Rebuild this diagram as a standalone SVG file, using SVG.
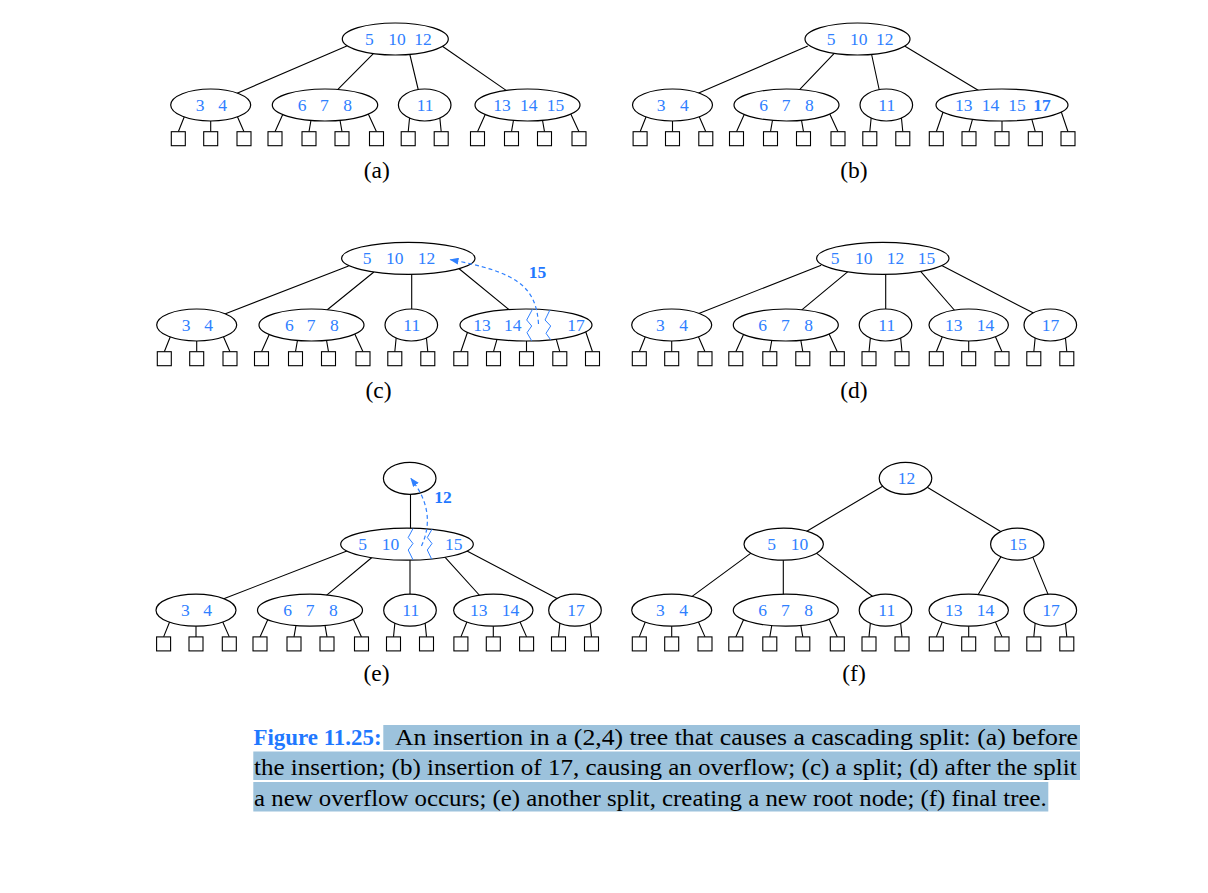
<svg xmlns="http://www.w3.org/2000/svg" xmlns:xlink="http://www.w3.org/1999/xlink" width="1208" height="893" viewBox="0 0 1208 893">
<style>
.e{fill:#fff;stroke:#000;stroke-width:1.2}
.lf{fill:#fff;stroke:#000;stroke-width:1.1}
.c{stroke:#000;stroke-width:1.1;fill:none}
.k{font-family:'Liberation Serif','Times New Roman',Times,serif;font-size:17.5px;fill:#2f80ff}
.kb{font-family:'Liberation Serif','Times New Roman',Times,serif;font-size:17.5px;font-weight:bold;fill:#1f78ff}
.lab{font-family:'Liberation Serif','Times New Roman',Times,serif;font-size:23.5px;fill:#000;text-anchor:middle}
.cap{font-family:'Liberation Serif','Times New Roman',Times,serif;font-size:22.5px;fill:#000}
.fig{font-family:'Liberation Serif','Times New Roman',Times,serif;font-size:22.5px;font-weight:bold;fill:#1f78ff}
.zz{stroke:#2f80ff;fill:none;stroke-width:1}
.da{stroke:#2f80ff;stroke-dasharray:4 3;fill:none;stroke-width:1.2}
.hl{fill:#9cc2dc}
</style>
<defs>
<marker id="ah" markerWidth="9" markerHeight="7" refX="8" refY="3.5" orient="auto" markerUnits="userSpaceOnUse"><path d="M0,0 L9,3.5 L0,7 z" fill="#2f80ff"/></marker>
<g id="le2"><path class="c" d="M-15,11.5 L-16.5,26.7 M15,11.5 L16.5,26.7"/></g>
<g id="le3"><path class="c" d="M-25.9,10.5 L-32.4,26.7 M0,14 L0,26.7 M26.2,10.5 L33.3,26.7"/></g>
<g id="le4"><path class="c" d="M-41.6,8 L-50,26.7 M-13.7,13.5 L-16,26.7 M14.7,13.5 L17,26.7 M42.6,7.5 L51.5,26.7"/></g>
<g id="le5"><path class="c" d="M-58.5,5.7 L-65.7,26.7 M-29.1,12.8 L-33,26.7 M0,14 L0,26.7 M29.4,12.8 L33.3,26.7 M58.8,5.5 L66,26.7"/></g>
<g id="lb2"><rect class="lf" x="-23.5" y="26.7" width="14" height="14"/><rect class="lf" x="9.5" y="26.7" width="14" height="14"/></g>
<g id="lb3"><rect class="lf" x="-39.4" y="26.7" width="14" height="14"/><rect class="lf" x="-7" y="26.7" width="14" height="14"/><rect class="lf" x="26.3" y="26.7" width="14" height="14"/></g>
<g id="lb4"><rect class="lf" x="-57" y="26.7" width="14" height="14"/><rect class="lf" x="-23" y="26.7" width="14" height="14"/><rect class="lf" x="10" y="26.7" width="14" height="14"/><rect class="lf" x="44.5" y="26.7" width="14" height="14"/></g>
<g id="lb5"><rect class="lf" x="-72.7" y="26.7" width="14" height="14"/><rect class="lf" x="-40" y="26.7" width="14" height="14"/><rect class="lf" x="-7" y="26.7" width="14" height="14"/><rect class="lf" x="26.3" y="26.7" width="14" height="14"/><rect class="lf" x="59" y="26.7" width="14" height="14"/></g>
</defs>
<rect width="1208" height="893" fill="#fff"/>

<g id="connectors">
<!-- (a) -->
<path class="c" d="M346.8,45.9 L236.5,93.5 M374.1,52.9 L335.9,91.4 M409.5,53 L418.8,92 M442.4,46.2 L507.6,91.4"/>
<use xlink:href="#le3" x="210.7" y="105"/><use xlink:href="#le4" x="325" y="105"/><use xlink:href="#le2" x="424.7" y="105"/><use xlink:href="#le4" x="527.5" y="105"/>
<!-- (b) -->
<path class="c" d="M807.8,45.9 L697.5,93.5 M834.7,52.9 L797.9,91.4 M871.3,53 L879.7,92 M905,46.3 L979.4,91"/>
<use xlink:href="#le3" x="672.5" y="105"/><use xlink:href="#le4" x="786.5" y="105"/><use xlink:href="#le2" x="886.3" y="105"/><use xlink:href="#le5" x="1002" y="105"/>
<!-- (c) -->
<path class="c" d="M348.6,266 L224.8,314 M373.9,272 L326.7,310.3 M411.7,273 L411.7,310.3 M459.1,268.7 L509.9,310.3"/>
<use xlink:href="#le3" x="196.7" y="325"/><use xlink:href="#le4" x="311.5" y="325"/><use xlink:href="#le2" x="411.3" y="325"/><use xlink:href="#le5" x="526.5" y="325"/>
<!-- (d) -->
<path class="c" d="M821.2,265.3 L698.8,313.4 M848.2,271.4 L801.2,310.3 M885.7,273 L885.7,310.3 M920.4,271.2 L955.6,311.5 M942.2,265.8 L1034.5,313.6"/>
<use xlink:href="#le3" x="671.7" y="325"/><use xlink:href="#le4" x="785.8" y="325"/><use xlink:href="#le2" x="885.5" y="325"/><use xlink:href="#le3" x="968.7" y="325"/><use xlink:href="#le2" x="1050.3" y="325"/>
<!-- (e) -->
<path class="c" d="M410.5,492 L410.5,530 M346.9,551 L223.1,599 M372.5,557 L325.2,596.3 M410,558 L410,596.3 M444.7,556.8 L480.6,596.5 M466.5,550.8 L558.5,599.2"/>
<use xlink:href="#le3" x="196" y="610.2"/><use xlink:href="#le4" x="310" y="610.2"/><use xlink:href="#le2" x="410" y="610.2"/><use xlink:href="#le3" x="493.3" y="610.2"/><use xlink:href="#le2" x="575" y="610.2"/>
<!-- (f) -->
<path class="c" d="M883.4,485.7 L804.3,532.7 M925.6,486.3 L1004.4,533.7 M752.3,552.1 L690.1,597.9 M783.3,558 L783.3,596.3 M815.1,552.1 L876.6,599.5 M1001,556.6 L977.3,596 M1032.5,556.4 L1049.1,596.9"/>
<use xlink:href="#le3" x="671.7" y="610.2"/><use xlink:href="#le4" x="785.8" y="610.2"/><use xlink:href="#le2" x="885.5" y="610.2"/><use xlink:href="#le3" x="968.7" y="610.2"/><use xlink:href="#le2" x="1050.3" y="610.2"/>
</g>

<!-- Tree (a) -->
<g id="a-root"><ellipse class="e" cx="395.3" cy="39" rx="53" ry="16"/><text class="k" y="45"><tspan x="365">5</tspan> <tspan x="388.3">10</tspan> <tspan x="414.3">12</tspan></text></g>
<g id="a-n34"><ellipse class="e" cx="210.7" cy="105" rx="40" ry="16"/><text class="k" y="111"><tspan x="195.7">3</tspan> <tspan x="218.3">4</tspan></text><use xlink:href="#lb3" x="210.7" y="105"/></g>
<g id="a-n678"><ellipse class="e" cx="325" cy="105" rx="52.7" ry="16"/><text class="k" y="111"><tspan x="297.7">6</tspan> <tspan x="320">7</tspan> <tspan x="343.3">8</tspan></text><use xlink:href="#lb4" x="325" y="105"/></g>
<g id="a-n11"><ellipse class="e" cx="424.7" cy="105" rx="26.3" ry="16"/><text class="k" x="416.7" y="111">11</text><use xlink:href="#lb2" x="424.7" y="105"/></g>
<g id="a-n131415"><ellipse class="e" cx="527.5" cy="105" rx="52.5" ry="16"/><text class="k" y="111"><tspan x="493.3">13</tspan> <tspan x="520">14</tspan> <tspan x="546.7">15</tspan></text><use xlink:href="#lb4" x="527.5" y="105"/></g>
<text class="lab" x="376.7" y="177.5">(a)</text>

<!-- Tree (b) -->
<g id="b-root"><ellipse class="e" cx="857.5" cy="39" rx="52.5" ry="16"/><text class="k" y="45"><tspan x="826.7">5</tspan> <tspan x="850">10</tspan> <tspan x="876">12</tspan></text></g>
<g id="b-n34"><ellipse class="e" cx="672.5" cy="105" rx="40" ry="16"/><text class="k" y="111"><tspan x="656.7">3</tspan> <tspan x="680">4</tspan></text><use xlink:href="#lb3" x="672.5" y="105"/></g>
<g id="b-n678"><ellipse class="e" cx="786.5" cy="105" rx="52.5" ry="16"/><text class="k" y="111"><tspan x="759.3">6</tspan> <tspan x="781.7">7</tspan> <tspan x="805">8</tspan></text><use xlink:href="#lb4" x="786.5" y="105"/></g>
<g id="b-n11"><ellipse class="e" cx="886.3" cy="105" rx="26.3" ry="16"/><text class="k" x="878.3" y="111">11</text><use xlink:href="#lb2" x="886.3" y="105"/></g>
<g id="b-n13141517"><ellipse class="e" cx="1002" cy="105" rx="66" ry="16"/><text class="k" y="111"><tspan x="955">13</tspan> <tspan x="981.7">14</tspan> <tspan x="1008.3">15</tspan> <tspan x="1033.3" font-weight="bold">17</tspan></text><use xlink:href="#lb5" x="1002" y="105"/></g>
<text class="lab" x="854" y="177.5">(b)</text>

<!-- Tree (c) -->
<g id="c-root"><ellipse class="e" cx="408.3" cy="258.3" rx="66.7" ry="16"/><text class="k" y="264.3"><tspan x="362.7">5</tspan> <tspan x="386">10</tspan> <tspan x="417.7">12</tspan></text></g>
<g id="c-n34"><ellipse class="e" cx="196.7" cy="325" rx="40" ry="16"/><text class="k" y="331"><tspan x="181.7">3</tspan> <tspan x="204.3">4</tspan></text><use xlink:href="#lb3" x="196.7" y="325"/></g>
<g id="c-n678"><ellipse class="e" cx="311.5" cy="325" rx="52.5" ry="16"/><text class="k" y="331"><tspan x="285">6</tspan> <tspan x="306.7">7</tspan> <tspan x="330">8</tspan></text><use xlink:href="#lb4" x="311.5" y="325"/></g>
<g id="c-n11"><ellipse class="e" cx="411.3" cy="325" rx="26.3" ry="16"/><text class="k" x="403.3" y="331">11</text><use xlink:href="#lb2" x="411.3" y="325"/></g>
<g id="c-n131417"><ellipse class="e" cx="526" cy="325" rx="66" ry="16"/><text class="k" y="331"><tspan x="473.3">13</tspan> <tspan x="504">14</tspan> <tspan x="567.3">17</tspan></text><use xlink:href="#lb5" x="526.5" y="325"/></g>
<text class="lab" x="378.5" y="397.5">(c)</text>

<!-- Tree (d) -->
<g id="d-root"><ellipse class="e" cx="882.8" cy="258.3" rx="66.2" ry="16"/><text class="k" y="264.3"><tspan x="830.7">5</tspan> <tspan x="855">10</tspan> <tspan x="886.7">12</tspan> <tspan x="917.7">15</tspan></text></g>
<g id="d-n34"><ellipse class="e" cx="671.7" cy="325" rx="40" ry="16"/><text class="k" y="331"><tspan x="656">3</tspan> <tspan x="679.3">4</tspan></text><use xlink:href="#lb3" x="671.7" y="325"/></g>
<g id="d-n678"><ellipse class="e" cx="785.8" cy="325" rx="52.5" ry="16"/><text class="k" y="331"><tspan x="758.3">6</tspan> <tspan x="781">7</tspan> <tspan x="804.3">8</tspan></text><use xlink:href="#lb4" x="785.8" y="325"/></g>
<g id="d-n11"><ellipse class="e" cx="885.5" cy="325" rx="26.3" ry="16"/><text class="k" x="878.3" y="331">11</text><use xlink:href="#lb2" x="885.5" y="325"/></g>
<g id="d-n1314"><ellipse class="e" cx="968.7" cy="325" rx="39.7" ry="16"/><text class="k" y="331"><tspan x="945">13</tspan> <tspan x="976.7">14</tspan></text><use xlink:href="#lb3" x="968.7" y="325"/></g>
<g id="d-n17"><ellipse class="e" cx="1050.3" cy="325" rx="26.3" ry="16"/><text class="k" x="1041.7" y="331">17</text><use xlink:href="#lb2" x="1050.3" y="325"/></g>
<text class="lab" x="854" y="397.5">(d)</text>

<!-- Tree (e) -->
<g id="e-newroot"><ellipse class="e" cx="409.7" cy="478.3" rx="26.3" ry="16"/></g>
<g id="e-n51015"><ellipse class="e" cx="407" cy="544.2" rx="66.3" ry="16"/><text class="k" y="550.2"><tspan x="358.3">5</tspan> <tspan x="381.7">10</tspan> <tspan x="445">15</tspan></text></g>
<g id="e-n34"><ellipse class="e" cx="196" cy="610.2" rx="40" ry="16"/><text class="k" y="616.2"><tspan x="181">3</tspan> <tspan x="203.3">4</tspan></text><use xlink:href="#lb3" x="196" y="610.2"/></g>
<g id="e-n678"><ellipse class="e" cx="310" cy="610.2" rx="52.5" ry="16"/><text class="k" y="616.2"><tspan x="283.3">6</tspan> <tspan x="305.7">7</tspan> <tspan x="329">8</tspan></text><use xlink:href="#lb4" x="310" y="610.2"/></g>
<g id="e-n11"><ellipse class="e" cx="410" cy="610.2" rx="26.3" ry="16"/><text class="k" x="402.3" y="616.2">11</text><use xlink:href="#lb2" x="410" y="610.2"/></g>
<g id="e-n1314"><ellipse class="e" cx="493.3" cy="610.2" rx="39.7" ry="16"/><text class="k" y="616.2"><tspan x="470">13</tspan> <tspan x="501.7">14</tspan></text><use xlink:href="#lb3" x="493.3" y="610.2"/></g>
<g id="e-n17"><ellipse class="e" cx="575" cy="610.2" rx="26.3" ry="16"/><text class="k" x="567.3" y="616.2">17</text><use xlink:href="#lb2" x="575" y="610.2"/></g>
<text class="lab" x="376.5" y="681">(e)</text>

<!-- Tree (f) -->
<g id="f-root"><ellipse class="e" cx="905.5" cy="478.3" rx="26.3" ry="16"/><text class="k" x="897.7" y="484.3">12</text></g>
<g id="f-n510"><ellipse class="e" cx="783.7" cy="544.2" rx="39.7" ry="16"/><text class="k" y="550.2"><tspan x="767.3">5</tspan> <tspan x="790.7">10</tspan></text></g>
<g id="f-n15"><ellipse class="e" cx="1017.3" cy="544.2" rx="26.7" ry="16"/><text class="k" x="1009.3" y="550.2">15</text></g>
<g id="f-n34"><ellipse class="e" cx="671.7" cy="610.2" rx="40" ry="16"/><text class="k" y="616.2"><tspan x="656">3</tspan> <tspan x="679.3">4</tspan></text><use xlink:href="#lb3" x="671.7" y="610.2"/></g>
<g id="f-n678"><ellipse class="e" cx="785.8" cy="610.2" rx="52.5" ry="16"/><text class="k" y="616.2"><tspan x="758.3">6</tspan> <tspan x="781">7</tspan> <tspan x="804.3">8</tspan></text><use xlink:href="#lb4" x="785.8" y="610.2"/></g>
<g id="f-n11"><ellipse class="e" cx="885.5" cy="610.2" rx="26.3" ry="16"/><text class="k" x="878.3" y="616.2">11</text><use xlink:href="#lb2" x="885.5" y="610.2"/></g>
<g id="f-n1314"><ellipse class="e" cx="968.7" cy="610.2" rx="39.7" ry="16"/><text class="k" y="616.2"><tspan x="945">13</tspan> <tspan x="976.7">14</tspan></text><use xlink:href="#lb3" x="968.7" y="610.2"/></g>
<g id="f-n17"><ellipse class="e" cx="1050.3" cy="610.2" rx="26.3" ry="16"/><text class="k" x="1042.3" y="616.2">17</text><use xlink:href="#lb2" x="1050.3" y="610.2"/></g>
<text class="lab" x="854" y="681">(f)</text>

<g id="split-marks">
<polyline class="zz" points="532.5,309.2 526.7,320 531.7,326 527,332.7 531.7,340.8"/>
<polyline class="zz" points="550,309.8 545,320 550.7,326 546,333.3 550.7,339.8"/>
<path class="da" d="M538.5,324 C536,285 515,272 450.5,259.6" marker-end="url(#ah)"/>
<text class="kb" x="537.5" y="278" text-anchor="middle">15</text>
<polyline class="zz" points="413,528.6 408.2,537.5 413,543.5 408.2,550 413,559.8"/>
<polyline class="zz" points="432,529.2 427.3,537.5 432,543.5 427.3,550 431.7,559.2"/>
<path class="da" d="M421.5,546 C431,525 430,503 411,478.5" marker-end="url(#ah)"/>
<text class="kb" x="443" y="503" text-anchor="middle">12</text>
</g>

<g id="caption">
<rect class="hl" x="383.3" y="725" width="696.7" height="25"/>
<rect class="hl" x="253.3" y="751.5" width="826.7" height="28.5"/>
<rect class="hl" x="253.3" y="782" width="795" height="29.5"/>
<text class="fig" x="253.5" y="744.5" textLength="128" lengthAdjust="spacingAndGlyphs">Figure 11.25:</text>
<text class="cap" x="395" y="744.5" textLength="683" lengthAdjust="spacingAndGlyphs">An insertion in a (2,4) tree that causes a cascading split: (a) before</text>
<text class="cap" x="254" y="775" textLength="822.7" lengthAdjust="spacingAndGlyphs">the insertion; (b) insertion of 17, causing an overflow; (c) a split; (d) after the split</text>
<text class="cap" x="254" y="805.5" textLength="792.7" lengthAdjust="spacingAndGlyphs">a new overflow occurs; (e) another split, creating a new root node; (f) final tree.</text>
</g>
</svg>
